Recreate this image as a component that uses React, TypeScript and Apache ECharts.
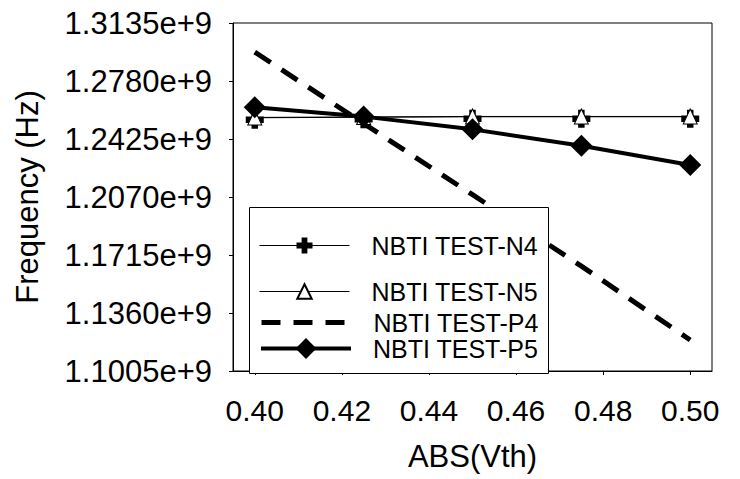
import React, { useEffect, useRef } from "react";
import * as echarts from "echarts";

const xValues = [0.4, 0.425, 0.45, 0.475, 0.5];
const n4Values = [1.2555e9, 1.2558e9, 1.2561e9, 1.2561e9, 1.2561e9];
const n5Values = [1.2557e9, 1.256e9, 1.2563e9, 1.2563e9, 1.2563e9];
const p4Values = [1.2957e9, 1.252e9, 1.2084e9, 1.1647e9, 1.1195e9];
const p5Values = [1.2619e9, 1.2562e9, 1.2484e9, 1.2384e9, 1.2266e9];
const xTickValues = [0.4, 0.42, 0.44, 0.46, 0.48, 0.5];
const seriesNames = ["NBTI TEST-N4", "NBTI TEST-N5", "NBTI TEST-P4", "NBTI TEST-P5"];

const FONT = "'Liberation Sans', Arial, sans-serif";
const PLUS = "path://M3.2,0H6.8V3.2H10V6.8H6.8V10H3.2V6.8H0V3.2H3.2Z";

const pairs = (ys: number[]) => xValues.map((x, i) => [x, ys[i]]);

export default function App() {
  const ref = useRef<HTMLDivElement>(null);
  useEffect(() => {
    if (!ref.current) return;
    const chart = echarts.init(ref.current, undefined, { renderer: "svg" });
    const legendCenters = [243, 288, 320, 349];
    const legendHeights = [20, 18, 20, 26];
    const legendLineWidths = [1, 1, 5, 4];
    const legends = seriesNames.map((name, i) => ({
      data: [name],
      left: 259,
      top: legendCenters[i] - legendHeights[i] / 2,
      orient: "vertical",
      itemWidth: 90,
      itemHeight: legendHeights[i],
      padding: 0,
      selectedMode: false,
      z: 10,
      lineStyle: { width: legendLineWidths[i] },
      textStyle: {
        fontFamily: FONT,
        fontSize: 25,
        color: "#000",
        padding: [0, 0, 0, 17],
      },
    }));
    chart.setOption({
      animation: false,
      backgroundColor: "#fff",
      grid: {
        left: 233,
        top: 23,
        width: 479,
        height: 348,
        show: true,
        borderColor: "#000",
        borderWidth: 1,
        backgroundColor: "transparent",
      },
      legend: legends,
      graphic: {
        elements: [
          {
            type: "rect",
            z: 5,
            shape: { x: 249.5, y: 207.5, width: 299, height: 166 },
            style: { fill: "#fff", stroke: "#000", lineWidth: 1 },
          },
        ],
      },
      xAxis: {
        type: "value",
        min: 0.395,
        max: 0.505,
        name: "ABS(Vth)",
        nameLocation: "middle",
        nameGap: 70,
        nameTextStyle: { fontFamily: FONT, fontSize: 31, color: "#000" },
        axisLine: { show: true, lineStyle: { color: "#000", width: 1 } },
        axisTick: {
          show: true,
          inside: false,
          length: 4,
          customValues: xTickValues,
          lineStyle: { color: "#000" },
        },
        axisLabel: {
          customValues: xTickValues,
          formatter: (v: number) => v.toFixed(2),
          fontFamily: FONT,
          fontSize: 30,
          color: "#000",
          margin: 24,
        },
        splitLine: { show: false },
      },
      yAxis: {
        type: "value",
        min: 1.1005e9,
        max: 1.3135e9,
        interval: 0.0355e9,
        name: "Frequency (Hz)",
        nameLocation: "middle",
        nameGap: 190,
        nameTextStyle: { fontFamily: FONT, fontSize: 31, color: "#000" },
        axisLine: { show: true, lineStyle: { color: "#000", width: 1 } },
        axisTick: { show: true, inside: false, length: 4, lineStyle: { color: "#000" } },
        axisLabel: {
          formatter: (v: number) => (v / 1e9).toFixed(4) + "e+9",
          fontFamily: FONT,
          fontSize: 31,
          color: "#000",
          margin: 21,
        },
        splitLine: { show: false },
      },
      series: [
        {
          name: seriesNames[0],
          type: "line",
          data: pairs(n4Values),
          symbol: PLUS,
          symbolSize: 18,
          symbolOffset: [0, 2],
          lineStyle: { color: "#000", width: 1 },
          itemStyle: { color: "#000" },
        },
        {
          name: seriesNames[1],
          type: "line",
          data: pairs(n5Values),
          symbol: "triangle",
          symbolSize: [14, 15],
          lineStyle: { color: "#000", width: 1 },
          itemStyle: { color: "#fff", borderColor: "#000", borderWidth: 1 },
        },
        {
          name: seriesNames[2],
          type: "line",
          data: pairs(p4Values),
          symbol: "circle",
          showSymbol: false,
          lineStyle: { color: "#000", width: 5, type: [19, 13] },
          itemStyle: { color: "#000", opacity: 0 },
        },
        {
          name: seriesNames[3],
          type: "line",
          data: pairs(p5Values),
          symbol: "diamond",
          symbolSize: [22, 22],
          lineStyle: { color: "#000", width: 4 },
          itemStyle: { color: "#000" },
        },
      ],
    });
    return () => chart.dispose();
  }, []);
  return (
    <div
      ref={ref}
      style={{ position: "fixed", left: 0, top: 0, width: 740, height: 479 }}
    />
  );
}
